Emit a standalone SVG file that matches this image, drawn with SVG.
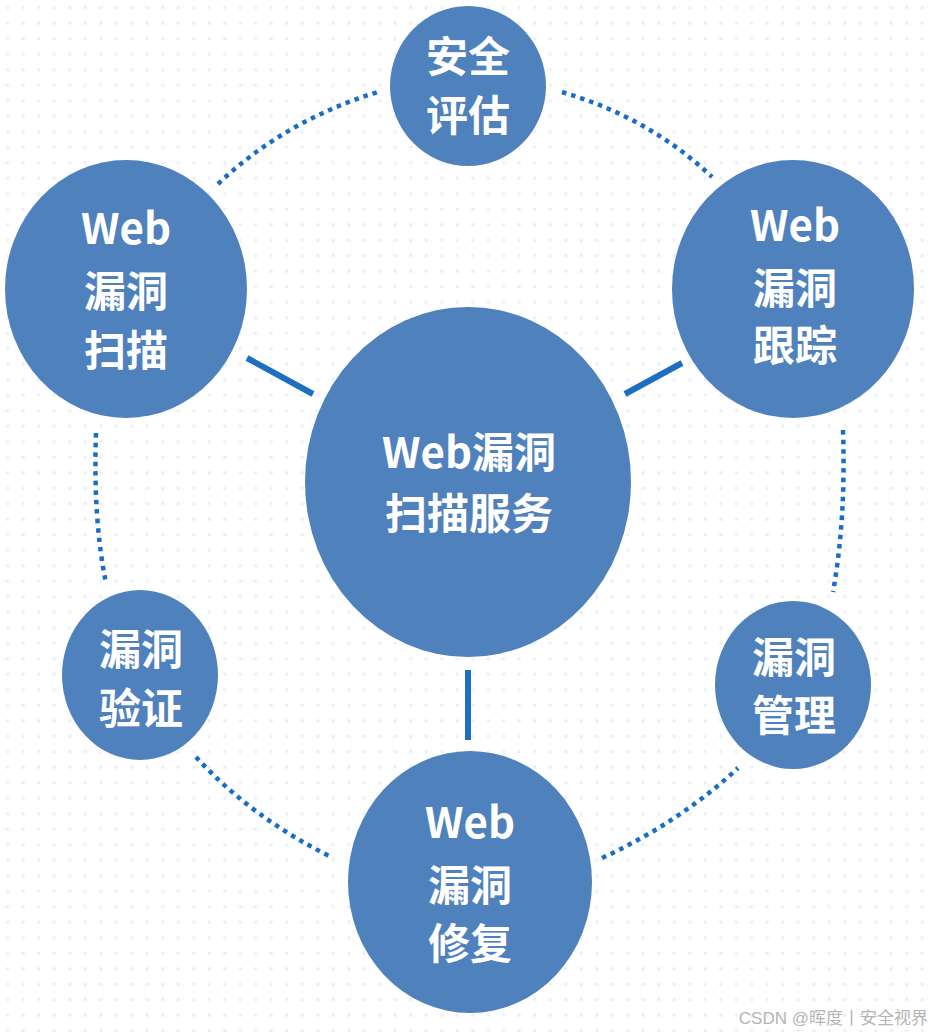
<svg xmlns="http://www.w3.org/2000/svg" width="933" height="1032" viewBox="0 0 933 1032">
<defs>
<pattern id="grid" x="0" y="0" width="15.5" height="15.5" patternUnits="userSpaceOnUse">
<path d="M7.75 5.5 V10 M5.5 7.75 H10" stroke="#e6ebf3" stroke-width="1.2"/>
</pattern>
<style>
.node{fill:#4f81bd;}
.t{fill:#ffffff;font-family:"Noto Sans CJK SC","Noto Sans",sans-serif;font-weight:700;font-size:42px;text-anchor:middle;}
.solid{stroke:#1e6fc2;stroke-width:6;fill:none;}
.dot{stroke:#1a6dc4;stroke-width:4.5;fill:none;stroke-dasharray:4.5 5;}
.wm{fill:#b4b4b4;font-family:"Liberation Sans","Noto Sans CJK SC",sans-serif;font-size:17px;text-anchor:end;}
</style>
</defs>
<rect width="933" height="1032" fill="#ffffff"/>
<rect width="933" height="1032" fill="url(#grid)"/>
<g id="connectors">
<line class="solid" x1="247" y1="358" x2="313" y2="394"/>
<line class="solid" x1="625" y1="394" x2="682" y2="363"/>
<line class="solid" x1="468" y1="670" x2="468" y2="740"/>
<path class="dot" d="M218 184 Q285 120 381 91"/>
<path class="dot" d="M562 92 Q650 118 712 177"/>
<path class="dot" d="M96 433 Q93 520 106 583"/>
<path class="dot" d="M843 430 Q846 520 833 592"/>
<path class="dot" d="M196 757 Q252 818 333 858"/>
<path class="dot" d="M602 858 Q680 822 738 768"/>
</g>
<g id="node-assess">
<ellipse class="node" cx="468" cy="86" rx="78" ry="80"/>
<text class="t" x="468" y="72">安全</text>
<text class="t" x="468" y="131">评估</text>
</g>
<g id="node-scan">
<ellipse class="node" cx="126" cy="289" rx="121" ry="129"/>
<text class="t" x="126" y="244">Web</text>
<text class="t" x="126" y="307">漏洞</text>
<text class="t" x="126" y="366">扫描</text>
</g>
<g id="node-track">
<ellipse class="node" cx="793" cy="289" rx="121" ry="129"/>
<text class="t" x="795" y="241">Web</text>
<text class="t" x="795" y="304">漏洞</text>
<text class="t" x="795" y="361">跟踪</text>
</g>
<g id="node-center">
<ellipse class="node" cx="468" cy="482" rx="163" ry="175"/>
<text class="t" x="469" y="468">Web漏洞</text>
<text class="t" x="469" y="529">扫描服务</text>
</g>
<g id="node-verify">
<ellipse class="node" cx="140" cy="675" rx="78" ry="85"/>
<text class="t" x="141" y="665">漏洞</text>
<text class="t" x="141" y="724">验证</text>
</g>
<g id="node-manage">
<ellipse class="node" cx="793" cy="685" rx="78" ry="84"/>
<text class="t" x="794" y="673">漏洞</text>
<text class="t" x="794" y="731">管理</text>
</g>
<g id="node-fix">
<ellipse class="node" cx="470" cy="882" rx="122" ry="131"/>
<text class="t" x="470" y="838">Web</text>
<text class="t" x="470" y="901">漏洞</text>
<text class="t" x="470" y="959">修复</text>
</g>
<text class="wm" x="928" y="1024">CSDN @晖度丨安全视界</text>
</svg>
